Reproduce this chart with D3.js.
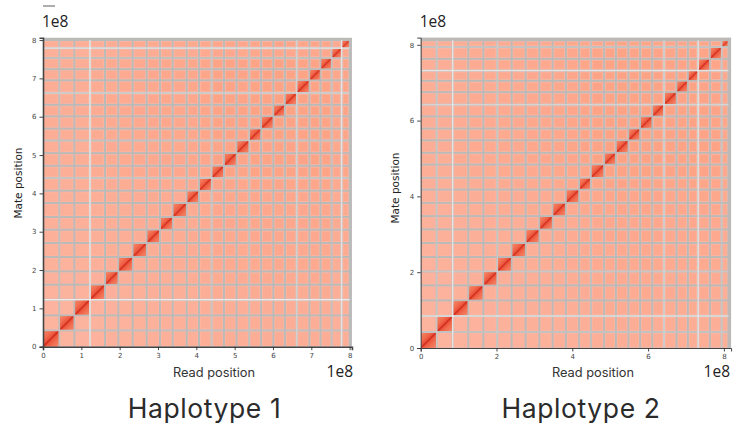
<!DOCTYPE html>
<html>
<head>
<meta charset="utf-8">
<script src="https://cdn.jsdelivr.net/npm/d3@7"></script>
<style>
html,body{margin:0;padding:0;background:#fff}
svg{display:block}
</style>
</head>
<body>
<svg id="c" width="744" height="425"></svg>
<script>
// Chromosome boundaries, in units of 1e8 bp
const hap1Bounds = [0,0.425,0.817,1.226,1.618,1.965,2.34,2.705,3.052,3.384,3.749,4.07,4.40,4.72,5.05,5.38,5.69,6.01,6.31,6.62,6.95,7.24,7.53,7.79,8.0];
const hap2Bounds = [0,0.422,0.844,1.256,1.652,2.02,2.40,2.77,3.13,3.48,3.83,4.18,4.49,4.84,5.15,5.48,5.79,6.11,6.42,6.75,7.05,7.32,7.63,7.94,8.12];
// Relative inter-chromosomal contact level of each chromosome (estimated)
const hap1Level = [0.62,0.60,0.62,0.66,0.70,0.72,0.74,0.76,0.78,0.78,0.80,0.84,0.90,0.90,0.88,0.92,0.92,0.94,0.92,0.90,0.92,0.92,0.78,0.86];
const hap2Level = [0.60,0.62,0.66,0.68,0.70,0.72,0.72,0.76,0.76,0.80,0.82,0.86,0.90,0.92,0.94,0.92,0.94,0.92,0.90,0.90,0.92,0.90,0.88,0.84];
// Boundaries (index into bounds) that read as pale stripes, with their strength
const hap1Pale = [[3,0.7],[1,0.1],[19,0.35],[12,0.2],[23,0.6],[22,0.12],[15,0.12]];
const hap2Pale = [[2,0.6],[1,0.18],[5,0.2],[18,0.38],[21,0.6],[23,0.18],[12,0.1]];
const xTicks1 = [0,1,2,3,4,5,6,7,8];
const xTicks2 = [0,2,4,6,8];
const diagStops = [[0,"#f68468"],[0.3,"#f1694c"],[0.44,"#ea5238"],[0.49,"#d02c20"],[0.51,"#d02c20"],[0.56,"#ea5238"],[0.7,"#f1694c"],[1,"#f68468"]];
const offsetLabel = "1e8", xLabel = "Read position", yLabel = "Mate position";
const titles = ["Haplotype 1","Haplotype 2"];

const svg = d3.select("#c");
const defs = svg.append("defs");
defs.append("filter").attr("id","soft").attr("x","-2%").attr("y","-2%").attr("width","104%").attr("height","104%")
  .append("feGaussianBlur").attr("stdDeviation",0.35);
const grad = defs.append("linearGradient").attr("id","diag").attr("x1",0).attr("y1",0).attr("x2",1).attr("y2",1);
grad.selectAll("stop").data(diagStops).join("stop").attr("offset",d=>d[0]).attr("stop-color",d=>d[1]);

const color = d3.scaleLinear().domain([0.36,0.88]).range(["#fcb4a0","#fda284"]).clamp(true);

function panel(o){
  const x = d3.scaleLinear().domain([0,o.max]).range([o.x0,o.x0+o.max*o.ux]);
  const y = d3.scaleLinear().domain([0,o.max]).range([o.y0,o.y0-o.max*o.uy]);
  const g = svg.append("g");
  const map = g.append("g").attr("filter","url(#soft)");
  map.append("rect").attr("x",x(0)).attr("y",y(o.max)).attr("width",x(o.max)-x(0)).attr("height",y(0)-y(o.max)).attr("fill","#bcbab8");
  const n = o.bounds.length-1, cells=[];
  d3.range(n).forEach(i=>d3.range(n).forEach(j=>cells.push({i,j})));
  const gap=1;
  const bx=d=>x(o.bounds[d.i])+(d.i?gap:0.3), bw=d=>x(o.bounds[d.i+1])-gap-bx(d);
  const by=d=>y(o.bounds[d.j+1])+gap, bh=d=>y(o.bounds[d.j])-(d.j?gap:0.3)-by(d);
  map.selectAll("rect.f").data(cells.filter(d=>d.i!==d.j)).join("rect").attr("class","f")
    .attr("x",bx).attr("y",by).attr("width",bw).attr("height",bh).attr("fill","#fdb6a2");
  map.selectAll("rect.c").data(cells).join("rect").attr("class","c")
    .attr("x",d=>bx(d)+(d.i===d.j?0:0.8)).attr("y",d=>by(d)+(d.i===d.j?0:0.8))
    .attr("width",d=>bw(d)-(d.i===d.j?0:1.6)).attr("height",d=>bh(d)-(d.i===d.j?0:1.6))
    .attr("fill",d=>d.i===d.j?"url(#diag)":color(o.level[d.i]*o.level[d.j]));
  // pale stripes along selected boundaries, both axes
  map.selectAll("rect.pv").data(o.pale).join("rect").attr("class","pv")
    .attr("x",d=>x(o.bounds[d[0]])-0.7).attr("width",1.4).attr("y",y(o.bounds[n])).attr("height",y(0)-y(o.bounds[n]))
    .attr("fill","#fff").attr("opacity",d=>d[1]);
  map.selectAll("rect.ph").data(o.pale).join("rect").attr("class","ph")
    .attr("y",d=>y(o.bounds[d[0]])-0.7).attr("height",1.4).attr("x",x(0)).attr("width",x(o.bounds[n])-x(0))
    .attr("fill","#fff").attr("opacity",d=>d[1]);
  // re-draw diagonal blocks above stripes
  map.selectAll("rect.d").data(cells.filter(d=>d.i===d.j)).join("rect").attr("class","d")
    .attr("x",bx).attr("y",by).attr("width",bw).attr("height",bh).attr("fill","url(#diag)");

  const ax = g.append("g").attr("transform",`translate(0,${o.y0})`)
    .call(d3.axisBottom(x).tickValues(o.ticks).tickSize(3.5).tickPadding(3).tickFormat(d3.format("d")));
  const ay = g.append("g").attr("transform",`translate(${o.x0},0)`)
    .call(d3.axisLeft(y).tickValues(o.ticks).tickSize(3.5).tickPadding(3).tickFormat(d3.format("d")));
  [ax,ay].forEach(a=>{
    a.selectAll("text").attr("font-family","DejaVu Sans").attr("font-size",7).attr("fill","#444");
    a.selectAll(".tick line").attr("stroke","#333").attr("stroke-width",0.9);
    a.select(".domain").attr("stroke","#444").attr("stroke-width",o.spine);
  });
  const lab = (s,xx,yy,size,anchor,fam,fill)=>g.append("text").attr("x",xx).attr("y",yy).attr("font-size",size)
    .attr("text-anchor",anchor).attr("font-family",fam).attr("fill",fill).text(s);
  lab(offsetLabel,o.x0-1,o.topY,15.5,"start","Open Sans","#222");
  lab(offsetLabel,o.brX,377,15.5,"end","Open Sans","#222");
  lab(xLabel,o.xlabX,376.5,12.8,"middle","Inter","#333");
  g.append("text").attr("transform",`translate(${o.ylabX},${o.ylabY}) rotate(-90)`).attr("text-anchor","middle")
    .attr("font-family","DejaVu Sans").attr("font-size",10.5).attr("fill","#222").text(yLabel);
  lab(o.title,o.titleX,418,26.5,"middle","Inter","#2b2b2b").attr("letter-spacing",0.6);
}

panel({bounds:hap1Bounds,level:hap1Level,pale:hap1Pale,ticks:xTicks1,max:8.06,x0:43,ux:38.33,y0:346.7,uy:38.33,spine:1.6,
  topY:27,brX:353,xlabX:214,ylabX:22,ylabY:183,titleX:204.5,title:titles[0]});
panel({bounds:hap2Bounds,level:hap2Level,pale:hap2Pale,ticks:xTicks2,max:8.19,x0:420.7,ux:37.9,y0:348,uy:37.9,spine:1,
  topY:27,brX:730,xlabX:593,ylabX:399,ylabY:188,titleX:581,title:titles[1]});
svg.append("line").attr("x1",43).attr("x2",55).attr("y1",6).attr("y2",6).attr("stroke","#333").attr("stroke-width",0.8);
</script>
</body>
</html>
